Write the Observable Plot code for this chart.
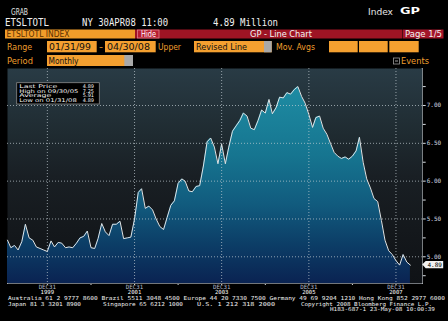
<!DOCTYPE html>
<html><head><meta charset="utf-8">
<script src="https://cdn.jsdelivr.net/npm/d3@7"></script>
<script src="https://cdn.jsdelivr.net/npm/@observablehq/plot@0.6"></script>
<style>
html,body{margin:0;padding:0;background:#000;}
#wrap{position:relative;width:448px;height:321px;overflow:hidden;background:#000;}
#chart{position:absolute;left:0;top:66px;}
#overlay{position:absolute;left:0;top:0;pointer-events:none;}
.mono{font-family:"DejaVu Sans Mono",monospace;}
.sans{font-family:"DejaVu Sans",sans-serif;}
</style></head><body><div id="wrap"><div id="chart"></div>
<svg id="overlay" width="448" height="321" xmlns="http://www.w3.org/2000/svg">
 <g class="sans" fill="#e6e6e6">
  <text x="11" y="14.5" font-size="8.5" textLength="17" lengthAdjust="spacingAndGlyphs">GRAB</text>
  <text x="368" y="14.5" font-size="9.5" textLength="25" lengthAdjust="spacingAndGlyphs">Index</text>
  <text x="400" y="14" font-size="9" font-weight="bold" textLength="20" lengthAdjust="spacingAndGlyphs" fill="#fff">GP</text>
 </g>
 <g class="mono" fill="#f0f0f0" font-size="10">
  <text x="5" y="26" textLength="44" lengthAdjust="spacingAndGlyphs">ETSLTOTL</text>
  <text x="82" y="26" textLength="86" lengthAdjust="spacingAndGlyphs">NY 30APR08 11:00</text>
  <text x="213" y="26" textLength="65" lengthAdjust="spacingAndGlyphs">4.89 Million</text>
 </g>
 <g class="sans" font-size="8.5">
  <rect x="5" y="29.5" width="130" height="9" fill="#f19d2a"/>
  <text x="6.5" y="36.7" textLength="63" lengthAdjust="spacingAndGlyphs" fill="#5a3000">ETSLTOTL INDEX</text>
  <rect x="135" y="29.5" width="267.5" height="9" fill="#9e1424"/>
  <rect x="137.4" y="30" width="21.6" height="8" fill="#b81d31" stroke="#e37f8c" stroke-width="0.8"/>
  <text x="141" y="36.5" textLength="15" lengthAdjust="spacingAndGlyphs" fill="#fff">Hide</text>
  <text x="250" y="36.7" textLength="62" lengthAdjust="spacingAndGlyphs" fill="#f4f4f4">GP - Line Chart</text>
  <rect x="403" y="29.5" width="40.5" height="9" fill="#a3162a"/>
  <text x="405" y="36.7" textLength="37" lengthAdjust="spacingAndGlyphs" fill="#f4f4f4">Page 1/5</text>
 </g>
 <g class="sans" font-size="9">
  <text x="7" y="50" textLength="25" lengthAdjust="spacingAndGlyphs" fill="#ef9f2e">Range</text>
  <rect x="47" y="41" width="49.7" height="11.3" fill="#f4a030"/>
  <text x="49" y="50" textLength="42" lengthAdjust="spacingAndGlyphs" fill="#111">01/31/99</text>
  <text x="99" y="50" textLength="4" lengthAdjust="spacingAndGlyphs" fill="#ef9f2e">-</text>
  <rect x="105" y="41" width="50.7" height="11.3" fill="#f4a030"/>
  <text x="107" y="50" textLength="43" lengthAdjust="spacingAndGlyphs" fill="#111">04/30/08</text>
  <text x="158" y="50" textLength="23" lengthAdjust="spacingAndGlyphs" fill="#ef9f2e">Upper</text>
  <rect x="194" y="41" width="77.7" height="11.3" fill="#f4a030"/>
  <rect x="264" y="41" width="7.7" height="11.3" fill="#a9a9a9"/>
  <text x="196" y="50" textLength="51" lengthAdjust="spacingAndGlyphs" fill="#111">Revised Line</text>
  <text x="276" y="50" textLength="39" lengthAdjust="spacingAndGlyphs" fill="#ef9f2e">Mov. Avgs</text>
  <rect x="329" y="41" width="28.7" height="11.3" fill="#f4a030"/>
  <rect x="359" y="41" width="28.7" height="11.3" fill="#f4a030"/>
  <rect x="389.3" y="41" width="29.4" height="11.3" fill="#f4a030"/>
  <text x="7" y="64" textLength="26" lengthAdjust="spacingAndGlyphs" fill="#ef9f2e">Period</text>
  <rect x="47" y="55" width="86" height="11" fill="#f4a030"/>
  <rect x="124.3" y="55" width="8.7" height="11" fill="#a9a9a9"/>
  <text x="48.5" y="64" textLength="30" lengthAdjust="spacingAndGlyphs" fill="#111">Monthly</text>
  <rect x="393.5" y="58" width="6" height="6" fill="none" stroke="#999" stroke-width="0.8"/>
  <line x1="395" y1="61" x2="398" y2="61" stroke="#ccc" stroke-width="0.8"/>
  <text x="401" y="64" textLength="28" lengthAdjust="spacingAndGlyphs" fill="#ef9f2e">Events</text>
 </g>
 <g id="stats"></g>
 <g class="mono" font-size="5.4" fill="#f0f0f0">
  <text x="8" y="300" textLength="437" lengthAdjust="spacingAndGlyphs">Australia 61 2 9777 8600 Brazil 5511 3048 4500 Europe 44 20 7330 7500 Germany 49 69 9204 1210 Hong Kong 852 2977 6000</text>
  <text x="8" y="305.6" textLength="73" lengthAdjust="spacingAndGlyphs">Japan 81 3 3201 8900</text>
  <text x="103" y="305.6" textLength="80" lengthAdjust="spacingAndGlyphs">Singapore 65 6212 1000</text>
  <text x="197" y="305.6" textLength="78" lengthAdjust="spacingAndGlyphs">U.S. 1 212 318 2000</text>
  <text x="301" y="305.6" textLength="131" lengthAdjust="spacingAndGlyphs">Copyright 2008 Bloomberg Finance L.P.</text>
  <text x="330" y="311.2" textLength="105" lengthAdjust="spacingAndGlyphs">H183-687-1 23-May-08 10:00:39</text>
 </g>
</svg></div>
<script>
// ---- data ----
const startYear = 1999; // first value = end of January 1999, monthly
const sales = [
  5.22,5.12,5.15,5.09,5.20,5.43,5.25,5.22,5.13,5.11,5.09,5.07,
  5.21,5.13,5.19,5.18,5.12,5.13,5.12,5.18,5.25,5.27,5.34,5.12,
  5.11,5.24,5.44,5.33,5.28,5.43,5.43,5.47,5.24,5.25,5.26,5.50,
  5.85,5.90,5.64,5.67,5.62,5.50,5.40,5.36,5.52,5.68,5.74,5.97,
  6.03,6.00,5.87,5.86,5.93,5.94,6.20,6.52,6.57,6.45,6.23,6.49,
  6.23,6.45,6.66,6.73,6.80,6.90,6.86,6.70,6.68,6.80,6.94,6.90,
  7.08,6.89,6.97,7.11,7.10,7.17,7.15,7.21,7.25,7.12,7.03,6.88,
  6.71,6.84,6.86,6.70,6.62,6.50,6.38,6.33,6.30,6.32,6.29,6.33,
  6.40,6.58,6.25,6.03,5.91,5.77,5.73,5.48,5.22,5.08,5.03,4.95,
  4.89,5.03,4.93,4.89
];
const yGridTicks = [5.0, 5.5, 6.0, 6.5, 7.0];
const yAxisTicks = [4.75, 5.0, 5.25, 5.5, 5.75, 6.0, 6.25, 6.5, 6.75, 7.0, 7.25];
const tickYears = [1999, 2000, 2001, 2002, 2003, 2004, 2005, 2006, 2007];
const labelYears = [1999, 2001, 2003, 2005, 2007];
const tickDayLabel = "DEC31";
const yDomain = [4.647, 7.489];
const xDomain = [new Date(Date.UTC(1999, 0, 31)), new Date(Date.UTC(2008, 7, 7))];

const data = sales.map((v, i) => ({date: new Date(Date.UTC(startYear, i + 1, 0)), value: v}));
const tickDates = tickYears.map(y => new Date(Date.UTC(y, 11, 31)));
const gridDates = labelYears.map(y => new Date(Date.UTC(y, 11, 31)));
const lastPrice = sales[sales.length - 1];

function lastPriceLabel(index, scales, values, dimensions) {
  const y = scales.y(lastPrice);
  const x0 = dimensions.width - dimensions.marginRight;
  const g = d3.create("svg:g");
  g.append("path")
    .attr("d", `M${x0 + 0.5},${y} L${x0 + 4},${y - 3.6} H${x0 + 21.5} V${y + 3.6} H${x0 + 4} Z`)
    .attr("fill", "#f2f2f2");
  g.append("text").attr("x", x0 + 13).attr("y", y).attr("dy", "0.36em")
    .attr("text-anchor", "middle").attr("font-size", 6).attr("fill", "#000")
    .attr("font-family", "DejaVu Sans Mono")
    .text(lastPrice.toFixed(2));
  return g.node();
}

const isHalf = d => Math.abs(d * 2 - Math.round(d * 2)) < 1e-9;

const chart = Plot.plot({
  width: 448, height: 232,
  marginLeft: 7, marginRight: 26.3, marginTop: 2, marginBottom: 15,
  style: {background: "transparent", color: "#d5dbe0", fontFamily: "DejaVu Sans Mono", fontSize: "6px", overflow: "visible"},
  x: {type: "utc", domain: xDomain, axis: "bottom", ticks: tickDates, tickSize: 2, tickFormat: () => "", line: true, label: null},
  y: {domain: yDomain, axis: "right", ticks: yAxisTicks, tickSize: 3, tickPadding: 1.5,
      tickFormat: d => isHalf(d) ? d.toFixed(2) : "", line: true, label: null},
  marks: [
    Plot.frame({fill: "url(#bgGrad)", stroke: "none"}),
    Plot.areaY(data, {x: "date", y1: () => yDomain[0], y2: "value", fill: "url(#areaGrad)"}),
    Plot.ruleY(yGridTicks, {stroke: "#c5cfd4", strokeOpacity: 0.7, strokeDasharray: "1,2"}),
    Plot.ruleX(gridDates, {stroke: "#c5cfd4", strokeOpacity: 0.7, strokeDasharray: "1,2"}),
    Plot.lineY(data, {x: "date", y: "value", stroke: "#dfe4e6", strokeWidth: 1}),
    Plot.text(gridDates, {x: d => d, y: () => yDomain[0], text: () => tickDayLabel, dy: 1.2, lineAnchor: "top", fontSize: 5.8, fill: "#b4bccc"}),
    Plot.text(gridDates, {x: d => d, y: () => yDomain[0], text: d => String(d.getUTCFullYear()), dy: 6.8, lineAnchor: "top", fontSize: 5.6, fill: "#ffffff"}),
    lastPriceLabel
  ]
});

const svg = d3.select(chart);
const defs = svg.insert("defs", ":first-child");
const bgStops = [[0, "#293b45"], [0.3, "#1f2b31"], [0.5, "#191f24"], [0.75, "#14181c"], [1, "#0f1216"]];
const areaStops = [[0, "#1e8ca3"], [0.35, "#167590"], [0.6, "#115b7e"], [0.8, "#0c3e67"], [1, "#0a2352"]];
function grad(id, stops) {
  const g = defs.append("linearGradient").attr("id", id).attr("x1", 0).attr("x2", 0).attr("y1", 0).attr("y2", 1);
  stops.forEach(([o, c]) => g.append("stop").attr("offset", o).attr("stop-color", c));
}
grad("bgGrad", bgStops);
grad("areaGrad", areaStops);
document.getElementById("chart").appendChild(chart);

// stats box
const fmt = d3.utcFormat("%m/%d/%y");
const hi = d3.maxIndex(sales), lo = d3.minIndex(sales);
const stats = [
  ["Last Price", lastPrice, 38],
  ["High on " + fmt(data[hi].date), sales[hi], 59],
  ["Average", d3.mean(sales), 32],
  ["Low on " + fmt(data[lo].date), sales[lo], 57.5]
];
const sg = d3.select("#stats");
sg.append("rect").attr("x", 16.7).attr("y", 82.7).attr("width", 82.6).attr("height", 21.3)
  .attr("fill", "#000").attr("stroke", "#8a8a8a").attr("stroke-width", 0.8);
stats.forEach(([label, v, w], i) => {
  const y = 88 + i * 4.7;
  sg.append("text").attr("x", 19.3).attr("y", y).attr("font-size", 5).attr("fill", "#f2f2f2")
    .attr("font-family", "DejaVu Sans").attr("textLength", w).attr("lengthAdjust", "spacingAndGlyphs").text(label);
  sg.append("text").attr("x", 94).attr("y", y).attr("font-size", 5).attr("fill", "#f2f2f2")
    .attr("font-family", "DejaVu Sans").attr("text-anchor", "end").text(v.toFixed(2));
});
</script>
</body></html>
